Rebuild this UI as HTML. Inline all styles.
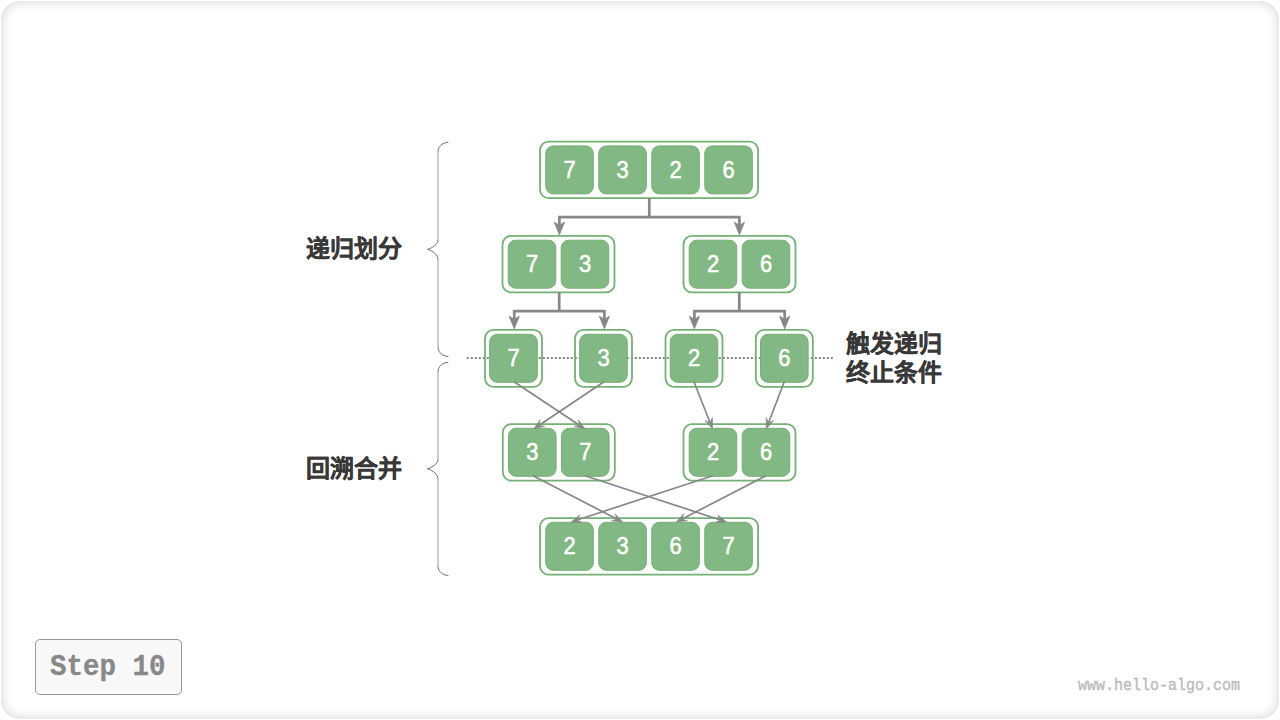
<!DOCTYPE html>
<html lang="zh-CN"><head><meta charset="utf-8">
<style>
html,body{margin:0;padding:0;background:#fff;width:1280px;height:720px;overflow:hidden;}
.card{position:absolute;left:1px;top:1px;width:1278px;height:718px;border-radius:19px;box-shadow:inset 0 0 12px rgba(0,0,0,0.19);background:#fff;}
svg{position:absolute;left:0;top:0;}
.num{font-family:"Liberation Sans",sans-serif;font-size:24px;fill:#fff;stroke:#fff;stroke-width:0.55px;text-anchor:middle;}
.lbl{position:absolute;font-family:"Liberation Sans",sans-serif;font-weight:bold;font-size:24px;color:#383838;line-height:29.2px;-webkit-text-stroke:0.25px #383838;white-space:nowrap;}
.step{position:absolute;left:35px;top:639px;width:147px;height:56px;box-sizing:border-box;border:1px solid #999;border-radius:5px;background:#f8f8f8;}
.steptxt{position:absolute;left:50px;top:642.9px;width:116px;height:46px;font-family:"Liberation Mono",monospace;font-weight:bold;font-size:27.5px;color:#888;line-height:46px;white-space:nowrap;transform:scale(1.0,1.08);transform-origin:0 0;-webkit-text-stroke:0.3px #888;}
.wm{position:absolute;left:1078px;top:676.8px;font-family:"Liberation Mono",monospace;font-size:15px;line-height:17px;color:#bbbbbb;white-space:nowrap;transform:scale(1.0,1.12);-webkit-text-stroke:0.35px #bbbbbb;transform-origin:0 0;}
</style></head><body>
<div class="card"></div>
<svg width="1280" height="720" viewBox="0 0 1280 720">
<line x1="466.8" y1="357.9" x2="832.9" y2="357.9" stroke="#858585" stroke-width="2" stroke-dasharray="2 2"/>
<rect x="540.05" y="141.65" width="218.00" height="56.50" rx="8.5" ry="8.5" fill="none" stroke="#74b174" stroke-width="1.8"/>
<rect x="545.75" y="145.90" width="47.60" height="48.00" rx="7.5" ry="7.5" fill="#82b883" stroke="#74b074" stroke-width="1"/>
<text transform="translate(569.55 177.50) scale(0.915 1)" class="num">7</text>
<rect x="598.75" y="145.90" width="47.60" height="48.00" rx="7.5" ry="7.5" fill="#82b883" stroke="#74b074" stroke-width="1"/>
<text transform="translate(622.55 177.50) scale(0.915 1)" class="num">3</text>
<rect x="651.75" y="145.90" width="47.60" height="48.00" rx="7.5" ry="7.5" fill="#82b883" stroke="#74b074" stroke-width="1"/>
<text transform="translate(675.55 177.50) scale(0.915 1)" class="num">2</text>
<rect x="704.75" y="145.90" width="47.60" height="48.00" rx="7.5" ry="7.5" fill="#82b883" stroke="#74b074" stroke-width="1"/>
<text transform="translate(728.55 177.50) scale(0.915 1)" class="num">6</text>
<rect x="502.50" y="235.95" width="112.00" height="56.50" rx="8.5" ry="8.5" fill="none" stroke="#74b174" stroke-width="1.8"/>
<rect x="508.20" y="240.20" width="47.60" height="48.00" rx="7.5" ry="7.5" fill="#82b883" stroke="#74b074" stroke-width="1"/>
<text transform="translate(532.00 271.80) scale(0.915 1)" class="num">7</text>
<rect x="561.20" y="240.20" width="47.60" height="48.00" rx="7.5" ry="7.5" fill="#82b883" stroke="#74b074" stroke-width="1"/>
<text transform="translate(585.00 271.80) scale(0.915 1)" class="num">3</text>
<rect x="683.50" y="235.95" width="112.00" height="56.50" rx="8.5" ry="8.5" fill="none" stroke="#74b174" stroke-width="1.8"/>
<rect x="689.20" y="240.20" width="47.60" height="48.00" rx="7.5" ry="7.5" fill="#82b883" stroke="#74b074" stroke-width="1"/>
<text transform="translate(713.00 271.80) scale(0.915 1)" class="num">2</text>
<rect x="742.20" y="240.20" width="47.60" height="48.00" rx="7.5" ry="7.5" fill="#82b883" stroke="#74b074" stroke-width="1"/>
<text transform="translate(766.00 271.80) scale(0.915 1)" class="num">6</text>
<rect x="485.00" y="329.80" width="57.00" height="57.00" rx="8.5" ry="8.5" fill="none" stroke="#74b174" stroke-width="1.8"/>
<rect x="489.70" y="334.30" width="47.60" height="48.00" rx="7.5" ry="7.5" fill="#82b883" stroke="#74b074" stroke-width="1"/>
<text transform="translate(513.50 365.90) scale(0.915 1)" class="num">7</text>
<rect x="575.00" y="329.80" width="57.00" height="57.00" rx="8.5" ry="8.5" fill="none" stroke="#74b174" stroke-width="1.8"/>
<rect x="579.70" y="334.30" width="47.60" height="48.00" rx="7.5" ry="7.5" fill="#82b883" stroke="#74b074" stroke-width="1"/>
<text transform="translate(603.50 365.90) scale(0.915 1)" class="num">3</text>
<rect x="665.50" y="329.80" width="57.00" height="57.00" rx="8.5" ry="8.5" fill="none" stroke="#74b174" stroke-width="1.8"/>
<rect x="670.20" y="334.30" width="47.60" height="48.00" rx="7.5" ry="7.5" fill="#82b883" stroke="#74b074" stroke-width="1"/>
<text transform="translate(694.00 365.90) scale(0.915 1)" class="num">2</text>
<rect x="755.80" y="329.80" width="57.00" height="57.00" rx="8.5" ry="8.5" fill="none" stroke="#74b174" stroke-width="1.8"/>
<rect x="760.50" y="334.30" width="47.60" height="48.00" rx="7.5" ry="7.5" fill="#82b883" stroke="#74b074" stroke-width="1"/>
<text transform="translate(784.30 365.90) scale(0.915 1)" class="num">6</text>
<rect x="502.80" y="424.05" width="112.00" height="56.50" rx="8.5" ry="8.5" fill="none" stroke="#74b174" stroke-width="1.8"/>
<rect x="508.50" y="428.30" width="47.60" height="48.00" rx="7.5" ry="7.5" fill="#82b883" stroke="#74b074" stroke-width="1"/>
<text transform="translate(532.30 459.90) scale(0.915 1)" class="num">3</text>
<rect x="561.50" y="428.30" width="47.60" height="48.00" rx="7.5" ry="7.5" fill="#82b883" stroke="#74b074" stroke-width="1"/>
<text transform="translate(585.30 459.90) scale(0.915 1)" class="num">7</text>
<rect x="683.50" y="424.05" width="112.00" height="56.50" rx="8.5" ry="8.5" fill="none" stroke="#74b174" stroke-width="1.8"/>
<rect x="689.20" y="428.30" width="47.60" height="48.00" rx="7.5" ry="7.5" fill="#82b883" stroke="#74b074" stroke-width="1"/>
<text transform="translate(713.00 459.90) scale(0.915 1)" class="num">2</text>
<rect x="742.20" y="428.30" width="47.60" height="48.00" rx="7.5" ry="7.5" fill="#82b883" stroke="#74b074" stroke-width="1"/>
<text transform="translate(766.00 459.90) scale(0.915 1)" class="num">6</text>
<rect x="540.05" y="518.05" width="218.00" height="56.50" rx="8.5" ry="8.5" fill="none" stroke="#74b174" stroke-width="1.8"/>
<rect x="545.75" y="522.30" width="47.60" height="48.00" rx="7.5" ry="7.5" fill="#82b883" stroke="#74b074" stroke-width="1"/>
<text transform="translate(569.55 553.90) scale(0.915 1)" class="num">2</text>
<rect x="598.75" y="522.30" width="47.60" height="48.00" rx="7.5" ry="7.5" fill="#82b883" stroke="#74b074" stroke-width="1"/>
<text transform="translate(622.55 553.90) scale(0.915 1)" class="num">3</text>
<rect x="651.75" y="522.30" width="47.60" height="48.00" rx="7.5" ry="7.5" fill="#82b883" stroke="#74b074" stroke-width="1"/>
<text transform="translate(675.55 553.90) scale(0.915 1)" class="num">6</text>
<rect x="704.75" y="522.30" width="47.60" height="48.00" rx="7.5" ry="7.5" fill="#82b883" stroke="#74b074" stroke-width="1"/>
<text transform="translate(728.55 553.90) scale(0.915 1)" class="num">7</text>
<path d="M649.3 198 V217.2 M559.4 228.8 V217.2 H739.4 V228.8" fill="none" stroke="#878787" stroke-width="2.7"/>
<path d="M554.3 222.20000000000002 L559.4 234.8 L564.5 222.20000000000002 L559.4 225.3 Z" fill="#878787" stroke="#878787" stroke-width="0.8" stroke-linejoin="round"/>
<path d="M734.3 222.20000000000002 L739.4 234.8 L744.5 222.20000000000002 L739.4 225.3 Z" fill="#878787" stroke="#878787" stroke-width="0.8" stroke-linejoin="round"/>
<path d="M559.2 292 V311.2 M514.25 322.8 V311.2 H604.4 V322.8" fill="none" stroke="#878787" stroke-width="2.7"/>
<path d="M509.15 316.2 L514.25 328.8 L519.35 316.2 L514.25 319.3 Z" fill="#878787" stroke="#878787" stroke-width="0.8" stroke-linejoin="round"/>
<path d="M599.3 316.2 L604.4 328.8 L609.5 316.2 L604.4 319.3 Z" fill="#878787" stroke="#878787" stroke-width="0.8" stroke-linejoin="round"/>
<path d="M739.3 292 V311.2 M694.4 322.8 V311.2 H784.7 V322.8" fill="none" stroke="#878787" stroke-width="2.7"/>
<path d="M689.3 316.2 L694.4 328.8 L699.5 316.2 L694.4 319.3 Z" fill="#878787" stroke="#878787" stroke-width="0.8" stroke-linejoin="round"/>
<path d="M779.6 316.2 L784.7 328.8 L789.8000000000001 316.2 L784.7 319.3 Z" fill="#878787" stroke="#878787" stroke-width="0.8" stroke-linejoin="round"/>
<line x1="514.0" y1="381.7" x2="579.49" y2="425.20" stroke="#878787" stroke-width="1.7"/>
<path d="M584.90 428.80 L573.94 426.32 L579.49 425.20 L578.37 419.66 Z" fill="#878787" stroke="#878787" stroke-width="0.6" stroke-linejoin="round"/>
<line x1="604.0" y1="381.7" x2="539.10" y2="425.18" stroke="#878787" stroke-width="1.7"/>
<path d="M533.70 428.80 L540.20 419.63 L539.10 425.18 L544.65 426.28 Z" fill="#878787" stroke="#878787" stroke-width="0.6" stroke-linejoin="round"/>
<line x1="694.0" y1="381.7" x2="710.12" y2="422.75" stroke="#878787" stroke-width="1.7"/>
<path d="M712.50 428.80 L704.94 420.49 L710.12 422.75 L712.38 417.56 Z" fill="#878787" stroke="#878787" stroke-width="0.6" stroke-linejoin="round"/>
<line x1="784.3" y1="381.7" x2="768.53" y2="422.73" stroke="#878787" stroke-width="1.7"/>
<path d="M766.20 428.80 L766.23 417.56 L768.53 422.73 L773.70 420.43 Z" fill="#878787" stroke="#878787" stroke-width="0.6" stroke-linejoin="round"/>
<line x1="533.0" y1="475.8" x2="616.82" y2="519.02" stroke="#878787" stroke-width="1.7"/>
<path d="M622.60 522.00 L611.43 520.74 L616.82 519.02 L615.10 513.63 Z" fill="#878787" stroke="#878787" stroke-width="0.6" stroke-linejoin="round"/>
<line x1="585.0" y1="475.8" x2="720.42" y2="519.98" stroke="#878787" stroke-width="1.7"/>
<path d="M726.60 522.00 L715.38 522.55 L720.42 519.98 L717.86 514.94 Z" fill="#878787" stroke="#878787" stroke-width="0.6" stroke-linejoin="round"/>
<line x1="712.8" y1="475.8" x2="577.18" y2="519.99" stroke="#878787" stroke-width="1.7"/>
<path d="M571.00 522.00 L579.74 514.94 L577.18 519.99 L582.22 522.55 Z" fill="#878787" stroke="#878787" stroke-width="0.6" stroke-linejoin="round"/>
<line x1="765.9" y1="475.8" x2="682.08" y2="519.02" stroke="#878787" stroke-width="1.7"/>
<path d="M676.30 522.00 L683.80 513.63 L682.08 519.02 L687.47 520.74 Z" fill="#878787" stroke="#878787" stroke-width="0.6" stroke-linejoin="round"/>
<path d="M438 152.0 V239.5 M438 259.6 V346.9" fill="none" stroke="#c2c2c2" stroke-width="1.6"/>
<path d="M448.3 142.3 C442 142.60000000000002 438 146.8 438 152.0 M438 239.5 C438 244.3 432.5 248.0 427.4 249.3 C432.5 250.60000000000002 438 254.8 438 259.6 M438 346.9 C438 352.0 442 356.2 448.4 356.5" fill="none" stroke="#707070" stroke-width="1.0"/>
<path d="M438 372.0 V459.0 M438 479.1 V565.9" fill="none" stroke="#c2c2c2" stroke-width="1.6"/>
<path d="M448.3 362.3 C442 362.6 438 366.8 438 372.0 M438 459.0 C438 463.8 432.5 467.5 427.4 468.8 C432.5 470.1 438 474.3 438 479.1 M438 565.9 C438 571.0 442 575.2 448.4 575.5" fill="none" stroke="#707070" stroke-width="1.0"/>
</svg>
<div class="lbl" style="left:306px;top:233.5px;">递归划分</div>
<div class="lbl" style="left:306px;top:453.5px;">回溯合并</div>
<div class="lbl" style="left:845.5px;top:329px;">触发递归<br>终止条件</div>
<div class="step"></div><div class="steptxt">Step 10</div>
<div class="wm">www.hello-algo.com</div>
</body></html>
